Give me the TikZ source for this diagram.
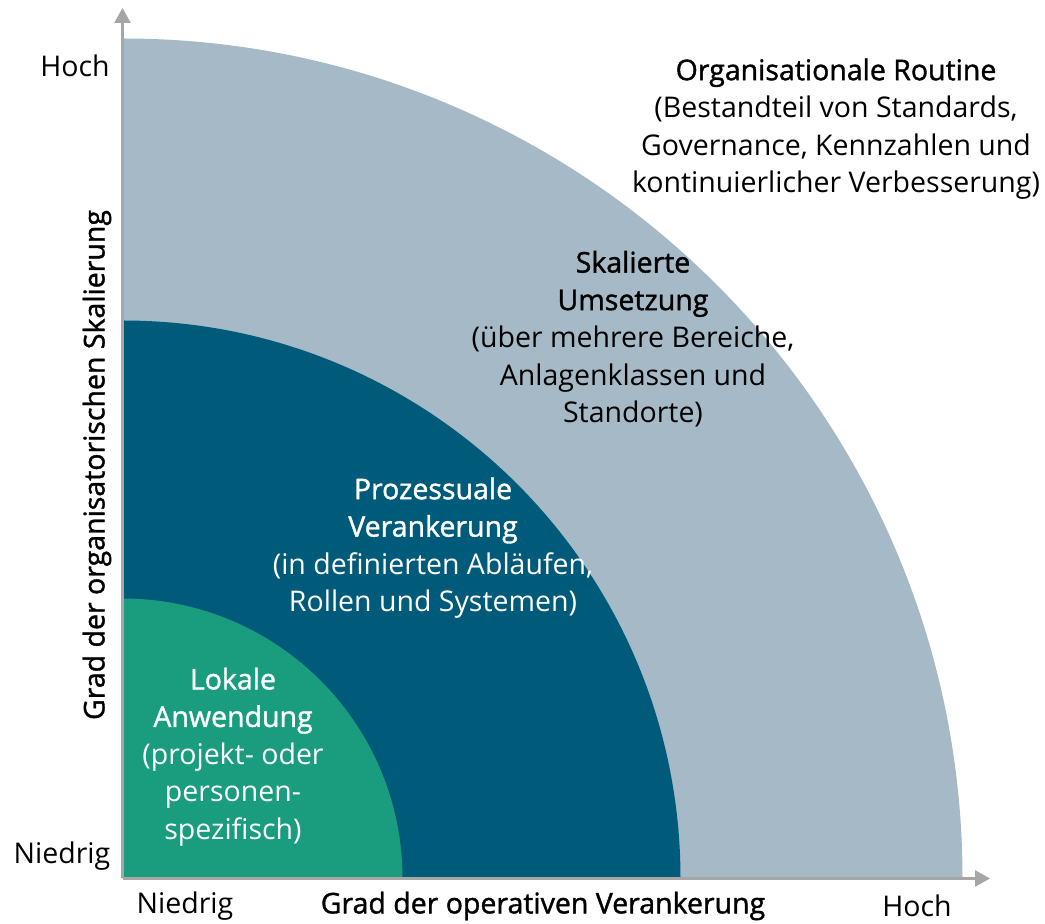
\documentclass[tikz,border=0pt]{standalone}
\usepackage{fontspec}
\setmainfont{Open Sans}
\newfontfamily\semibold[FakeBold=1.3]{Open Sans}
\usetikzlibrary{arrows.meta}
\definecolor{routine}{RGB}{165,185,198}
\definecolor{prozess}{RGB}{0,90,122}
\definecolor{lokal}{RGB}{26,157,127}
\definecolor{axisgray}{RGB}{166,166,166}
\begin{document}
\begin{tikzpicture}[x=1pt,y=1pt,
  lbl/.style={inner sep=0pt,align=center,font=\fontsize{28.5}{37.5}\selectfont},
  axislbl/.style={inner sep=0pt,font=\fontsize{28.5}{34}\selectfont},
  axisline/.style={draw=axisgray,line width=2.5pt,-{Triangle[length=15pt,width=16pt]}}]
\useasboundingbox (0,0) rectangle (1045,924);
\coordinate (O) at (122.5,45.5);
% nested quarter discs
\fill[routine] (O) -- ++(840,0) arc[start angle=0,end angle=90,radius=840] -- cycle;
\fill[prozess] (O) -- ++(558,0) arc[start angle=0,end angle=90,radius=558] -- cycle;
\fill[lokal] (O) -- ++(280,0) arc[start angle=0,end angle=90,radius=280] -- cycle;
% axes
\coordinate (xend) at (990,45.5);
\coordinate (yend) at (122.5,916);
\draw[axisline] (O) -- (xend);
\draw[axisline] (O) -- (yend);
% stage labels
\node[lbl,text=black] (routine) at (836,795)
  {{\semibold Organisationale Routine}\\(Bestandteil von Standards,\\Governance, Kennzahlen und\\kontinuierlicher Verbesserung)};
\node[lbl,text=black] (skal) at (633,585)
  {{\semibold Skalierte}\\{\semibold Umsetzung}\\(über mehrere Bereiche,\\Anlagenklassen und\\Standorte)};
\node[lbl,text=white] (prozess) at (433,376)
  {{\semibold Prozessuale}\\{\semibold Verankerung}\\(in definierten Abläufen,\\Rollen und Systemen)};
\node[lbl,text=white] (lokal) at (233,167)
  {{\semibold Lokale}\\{\semibold Anwendung}\\(projekt- oder\\personen-\\spezifisch)};
% axis labels
\node[axislbl] (yhoch) at (75,858) {Hoch};
\node[axislbl] (yniedrig) at (62,68) {Niedrig};
\node[axislbl] (xniedrig) at (185,18) {Niedrig};
\node[axislbl] (xhoch) at (917,18) {Hoch};
\node[axislbl] (xtitle) at (543,18) {\semibold Grad der operativen Verankerung};
\node[axislbl,rotate=90] (ytitle) at (97,459) {\semibold Grad der organisatorischen Skalierung};
\end{tikzpicture}
\end{document}
